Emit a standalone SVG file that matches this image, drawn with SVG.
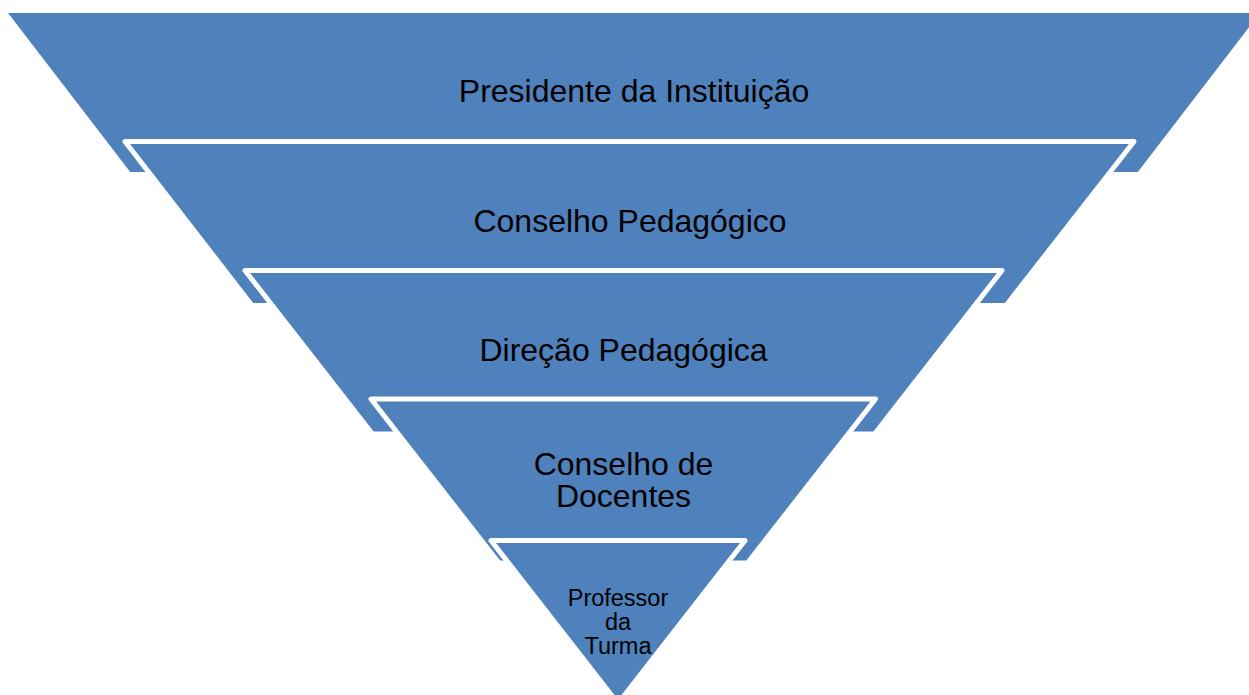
<svg xmlns="http://www.w3.org/2000/svg" width="1249" height="695" viewBox="0 0 1249 695">
  <style>
    .lvl { fill: #4F81BD; stroke: #FFFFFF; stroke-width: 5; stroke-linejoin: round; }
    .lbl { font-family: "Liberation Sans", Arial, sans-serif; font-size: 32px; fill: #000000; text-anchor: middle; }
    .sm { font-size: 23.5px; }
  </style>
  <rect x="0" y="0" width="1249" height="695" fill="#FFFFFF"/>
  <g id="level1">
    <polygon class="lvl" points="3,10.5 1265,10.5 1139,174.5 129,174.5"/>
    <text class="lbl" x="634" y="102">Presidente da Instituição</text>
  </g>
  <g id="level2">
    <polygon class="lvl" points="125,141.5 1134,141.5 1006,305.5 252,305.5"/>
    <text class="lbl" x="630" y="232">Conselho Pedagógico</text>
  </g>
  <g id="level3">
    <polygon class="lvl" points="245,270.5 1002,270.5 874.5,434 372.5,434"/>
    <text class="lbl" x="623.5" y="361">Direção Pedagógica</text>
  </g>
  <g id="level4">
    <polygon class="lvl" points="371,399 875.5,399 747.5,563 499,563"/>
    <text class="lbl" x="623.5" y="475">Conselho de</text>
    <text class="lbl" x="623.5" y="507">Docentes</text>
  </g>
  <g id="level5">
    <polygon class="lvl" points="491,540.5 745,540.5 618,703.5"/>
    <text class="lbl sm" x="618" y="606">Professor</text>
    <text class="lbl sm" x="618" y="630">da</text>
    <text class="lbl sm" x="618" y="654">Turma</text>
  </g>
  <g id="connectors"/>
</svg>
